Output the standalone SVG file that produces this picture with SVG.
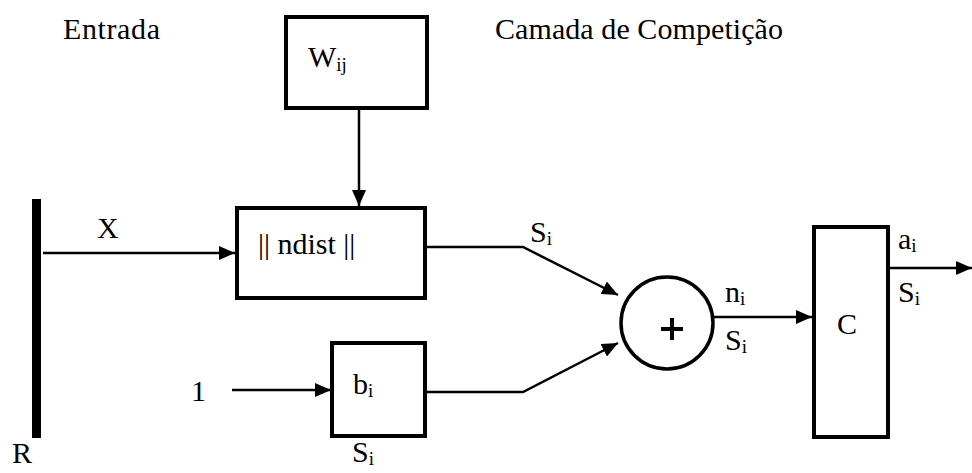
<svg xmlns="http://www.w3.org/2000/svg" width="972" height="473" viewBox="0 0 972 473">
  <style>
    .box { fill: #fff; stroke: #000; stroke-width: 4; }
    .wire { fill: none; stroke: #000; stroke-width: 2.5; }
    .lbl { font-family: "Liberation Serif", "Times New Roman", serif; font-size: 30px; fill: #000; }
    .sub { font-size: 19px; }
  </style>
  <defs>
    <marker id="arrow" markerUnits="userSpaceOnUse" markerWidth="16" markerHeight="14" viewBox="0 0 16 14" refX="16" refY="7" orient="auto">
      <path d="M0,0 L16,7 L0,14 Z" fill="#000"/>
    </marker>
  </defs>

  <rect width="972" height="473" fill="#fff"/>

  <!-- section titles -->
  <text class="lbl" x="63" y="39" textLength="97">Entrada</text>
  <text class="lbl" x="495" y="39" textLength="288">Camada de Competição</text>

  <!-- input bus -->
  <g id="input-R">
    <rect x="32" y="199" width="9" height="239" fill="#000"/>
    <text class="lbl" x="12" y="463">R</text>
  </g>

  <g id="weights">
    <rect class="box" x="286" y="17" width="141" height="91"/>
    <text class="lbl" x="308" y="67">W<tspan class="sub" dy="4">ij</tspan></text>
  </g>

  <g id="ndist">
    <rect class="box" x="237" y="208" width="188" height="90"/>
    <text class="lbl" x="258" y="254">|| ndist ||</text>
  </g>

  <g id="bias">
    <rect class="box" x="332" y="343" width="93" height="93"/>
    <text class="lbl" x="353" y="394">b<tspan class="sub" dy="3">i</tspan></text>
    <text class="lbl" x="352" y="462">S<tspan class="sub" dy="3">i</tspan></text>
  </g>

  <g id="one">
    <text class="lbl" x="191" y="401">1</text>
  </g>

  <g id="sum">
    <circle cx="667" cy="323" r="46" fill="#fff" stroke="#000" stroke-width="3.5"/>
    <path d="M661,329 H683 M672,318 V340" stroke="#000" stroke-width="4" fill="none"/>
  </g>

  <g id="compet">
    <rect class="box" x="814" y="227" width="74" height="210"/>
    <text class="lbl" x="837" y="334">C</text>
  </g>

  <g id="connectors">
    <line class="wire" x1="43" y1="253" x2="235" y2="253" marker-end="url(#arrow)"/>
    <line class="wire" x1="359" y1="108" x2="359" y2="206" marker-end="url(#arrow)"/>
    <line class="wire" x1="232" y1="390" x2="331" y2="390" marker-end="url(#arrow)"/>
    <polyline class="wire" points="427,247 523,247 618,295" marker-end="url(#arrow)"/>
    <polyline class="wire" points="427,392 523,392 618,343" marker-end="url(#arrow)"/>
    <line class="wire" x1="714" y1="317" x2="812" y2="317" marker-end="url(#arrow)"/>
    <line class="wire" x1="890" y1="268" x2="972" y2="268" marker-end="url(#arrow)"/>
  </g>

  <!-- connector labels -->
  <text class="lbl" x="530" y="242">S<tspan class="sub" dy="3">i</tspan></text>
  <text class="lbl" x="97" y="238">X</text>
  <text class="lbl" x="725" y="302">n<tspan class="sub" dy="3">i</tspan></text>
  <text class="lbl" x="725" y="350">S<tspan class="sub" dy="3">i</tspan></text>
  <text class="lbl" x="898" y="249">a<tspan class="sub" dy="3">i</tspan></text>
  <text class="lbl" x="898" y="302">S<tspan class="sub" dy="3">i</tspan></text>
</svg>
